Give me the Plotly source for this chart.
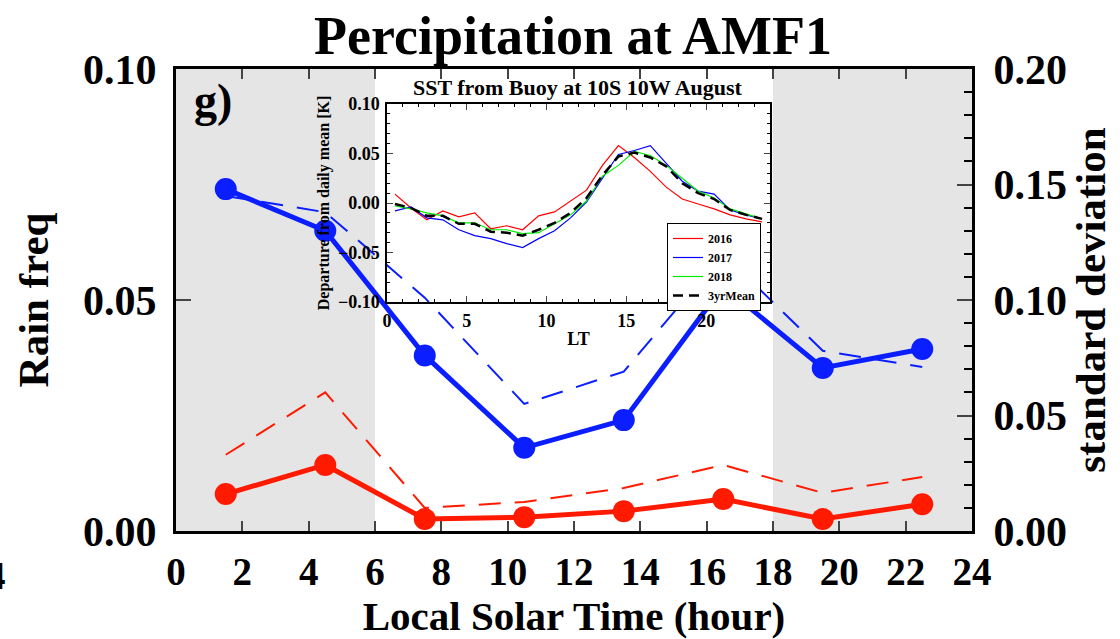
import plotly.graph_objects as go

# ---------------- data ----------------
hours = [1.5, 4.5, 7.5, 10.5, 13.5, 16.5, 19.5, 22.5]
freq_blue = [0.074, 0.065, 0.038, 0.018, 0.024, 0.053, 0.0353, 0.0394]
freq_red = [0.008, 0.0143, 0.0026, 0.003, 0.0043, 0.0069, 0.0026, 0.0058]
std_blue = [0.145, 0.138, 0.101, 0.055, 0.069, 0.120, 0.078, 0.071]
std_red = [0.033, 0.060, 0.010, 0.0126, 0.0186, 0.0286, 0.0165, 0.0234]

x_ticks = [0, 2, 4, 6, 8, 10, 12, 14, 16, 18, 20, 22, 24]
night_spans = [(0, 6), (18, 24)]

lt = [0.5, 1.5, 2.5, 3.5, 4.5, 5.5, 6.5, 7.5, 8.5, 9.5, 10.5, 11.5,
      12.5, 13.5, 14.5, 15.5, 16.5, 17.5, 18.5, 19.5, 20.5, 21.5, 22.5, 23.5]
sst_2016 = [0.009, -0.005, -0.017, -0.008, -0.014, -0.010, -0.026, -0.023,
            -0.027, -0.013, -0.009, 0.002, 0.013, 0.038, 0.058, 0.046,
            0.032, 0.016, 0.004, -0.001, -0.006, -0.012, -0.016, -0.019]
sst_2017 = [-0.008, -0.004, -0.015, -0.017, -0.027, -0.033, -0.036, -0.041,
            -0.045, -0.036, -0.028, -0.015, 0.001, 0.025, 0.049, 0.053,
            0.058, 0.040, 0.022, 0.012, 0.009, -0.007, -0.012, -0.016]
sst_2018 = [-0.003, -0.006, -0.010, -0.013, -0.020, -0.020, -0.027, -0.027,
            -0.031, -0.030, -0.021, -0.012, 0.002, 0.027, 0.038, 0.052,
            0.048, 0.038, 0.025, 0.012, 0.005, -0.006, -0.011, -0.016]
sst_mean = [-0.001, -0.005, -0.013, -0.013, -0.021, -0.021, -0.029, -0.030,
            -0.033, -0.027, -0.020, -0.010, 0.005, 0.028, 0.047, 0.051,
            0.046, 0.037, 0.020, 0.010, 0.004, -0.007, -0.012, -0.016]

# ---------------- style ----------------
FONT = "Liberation Serif"
BLUE = "#0a1eff"
RED = "#ff1a00"
GRAY = "#e5e5e5"

fig = go.Figure()

# main chart: std dev (dashed, right axis)
fig.add_trace(go.Scatter(x=hours, y=std_red, mode="lines", yaxis="y2",
                         line=dict(color=RED, width=2, dash="22px,14px"),
                         showlegend=False))
fig.add_trace(go.Scatter(x=hours, y=std_blue, mode="lines", yaxis="y2",
                         line=dict(color=BLUE, width=2, dash="22px,14px"),
                         showlegend=False))
# main chart: rain freq (solid with dots)
fig.add_trace(go.Scatter(x=hours, y=freq_red, mode="lines+markers",
                         line=dict(color=RED, width=5),
                         marker=dict(color=RED, size=22),
                         showlegend=False))
fig.add_trace(go.Scatter(x=hours, y=freq_blue, mode="lines+markers",
                         line=dict(color=BLUE, width=5),
                         marker=dict(color=BLUE, size=22),
                         showlegend=False))

# inset SST
fig.add_trace(go.Scatter(x=lt, y=sst_2016, mode="lines", xaxis="x3", yaxis="y3",
                         name="2016", line=dict(color="#ff0000", width=1.2)))
fig.add_trace(go.Scatter(x=lt, y=sst_2017, mode="lines", xaxis="x3", yaxis="y3",
                         name="2017", line=dict(color="#0000ff", width=1.2)))
fig.add_trace(go.Scatter(x=lt, y=sst_2018, mode="lines", xaxis="x3", yaxis="y3",
                         name="2018", line=dict(color="#00ee00", width=1.2)))
fig.add_trace(go.Scatter(x=lt, y=sst_mean, mode="lines", xaxis="x3", yaxis="y3",
                         name="3yrMean", line=dict(color="black", width=2.5, dash="10px,6px")))

shapes = []
for a, b in night_spans:
    shapes.append(dict(type="rect", xref="x", yref="paper", x0=a, x1=b, y0=0, y1=1,
                       fillcolor=GRAY, line=dict(width=0), layer="below"))

tick_font = dict(family=FONT, size=42, color="black", weight="bold")
xtick_font = dict(family=FONT, size=39, color="black", weight="bold")
title_font = dict(family=FONT, size=43, color="black", weight="bold")
xtitle_font = dict(family=FONT, size=41, color="black", weight="bold")
inset_tick_font = dict(family=FONT, size=18, color="black", weight="bold")

fig.update_layout(
    width=1120, height=639,
    margin=dict(l=176, r=148, t=69, b=108, autoexpand=False),
    paper_bgcolor="white", plot_bgcolor="rgba(0,0,0,0)",
    shapes=shapes,
    title=dict(text="Percipitation at AMF1", x=573 / 1120, xref="container", xanchor="center",
               y=1 - 35 / 639, yref="container", yanchor="middle",
               font=dict(family=FONT, size=54, color="black", weight="bold")),
    xaxis=dict(range=[0, 24], tickvals=x_ticks, ticks="inside", ticklen=10, tickwidth=2,
               showline=True, linewidth=3, linecolor="black", mirror="ticks", automargin=False,
               showgrid=False, zeroline=False, tickfont=xtick_font, ticklabelstandoff=4,
               title=dict(text="Local Solar Time (hour)", font=xtitle_font, standoff=2)),
    yaxis=dict(range=[0, 0.1], tickvals=[0, 0.05, 0.1], tickformat=".2f", ticks="inside",
               ticklen=15, tickwidth=2, showline=True, linewidth=3, linecolor="black",
               showgrid=False, zeroline=False, tickfont=tick_font, ticklabelstandoff=8,
               automargin=False,
               title=dict(text="Rain freq", font=title_font, standoff=22)),
    yaxis2=dict(range=[0, 0.2], tickvals=[0, 0.05, 0.1, 0.15, 0.2], tickformat=".2f",
                overlaying="y", side="right", ticks="inside", ticklen=15, tickwidth=2,
                minor=dict(dtick=0.01, ticks="inside", ticklen=8, tickwidth=2, tickcolor="black"),
                showline=True, linewidth=3, linecolor="black", showgrid=False, zeroline=False,
                tickfont=tick_font, ticklabelstandoff=10, automargin=False,
                title=dict(text="standard deviation", font=title_font, standoff=8)),
    xaxis3=dict(domain=[(387 - 176) / 796, (770 - 176) / 796], anchor="y3", range=[0, 24],
                tickvals=[0, 5, 10, 15, 20], ticks="inside", ticklen=6, tickwidth=1,
                minor=dict(dtick=1, ticks="inside", ticklen=3, tickcolor="black"),
                showline=True, linewidth=1.5, linecolor="black", mirror="ticks",
                showgrid=False, zeroline=False, tickfont=inset_tick_font, ticklabelstandoff=2,
                automargin=False,
                title=dict(text="LT", font=dict(family=FONT, size=18, color="black", weight="bold"),
                           standoff=2)),
    yaxis3=dict(domain=[(531 - 302) / 462, (531 - 104) / 462], anchor="x3", range=[-0.1, 0.1],
                tickvals=[-0.1, -0.05, 0, 0.05, 0.1], tickformat=".2f", ticks="inside",
                ticklen=6, tickwidth=1,
                minor=dict(dtick=0.01, ticks="inside", ticklen=3, tickcolor="black"),
                showline=True, linewidth=1.5, linecolor="black", mirror="ticks",
                showgrid=False, zeroline=False, tickfont=inset_tick_font, ticklabelstandoff=2,
                automargin=False,
                title=dict(text="Departure from daily mean [K]",
                           font=dict(family=FONT, size=16, color="black", weight="bold"),
                           standoff=4)),
    legend=dict(x=(761 - 176) / 796, xanchor="right", y=(531 - 223) / 462, yanchor="top",
                bgcolor="white", bordercolor="black", borderwidth=1, tracegroupgap=0,
                font=dict(family=FONT, size=12, color="black", weight="bold"),
                itemwidth=30),
    annotations=[
        dict(text="SST from Buoy at 10S 10W August", xref="paper", yref="paper",
             x=(578 - 176) / 796, y=(531 - 87) / 462, xanchor="center", yanchor="middle",
             showarrow=False, font=dict(family=FONT, size=22, color="black", weight="bold")),
        dict(text="g)", xref="paper", yref="paper", x=(213 - 176) / 796, y=(531 - 100) / 462,
             xanchor="center", yanchor="middle", showarrow=False,
             font=dict(family=FONT, size=46, color="black", weight="bold")),
        dict(text="4", xref="paper", yref="paper", x=(8 - 176) / 796, y=(531 - 575) / 462,
             xanchor="right", yanchor="middle", showarrow=False, font=xtick_font),
    ],
)

fig.write_html("out.html")
